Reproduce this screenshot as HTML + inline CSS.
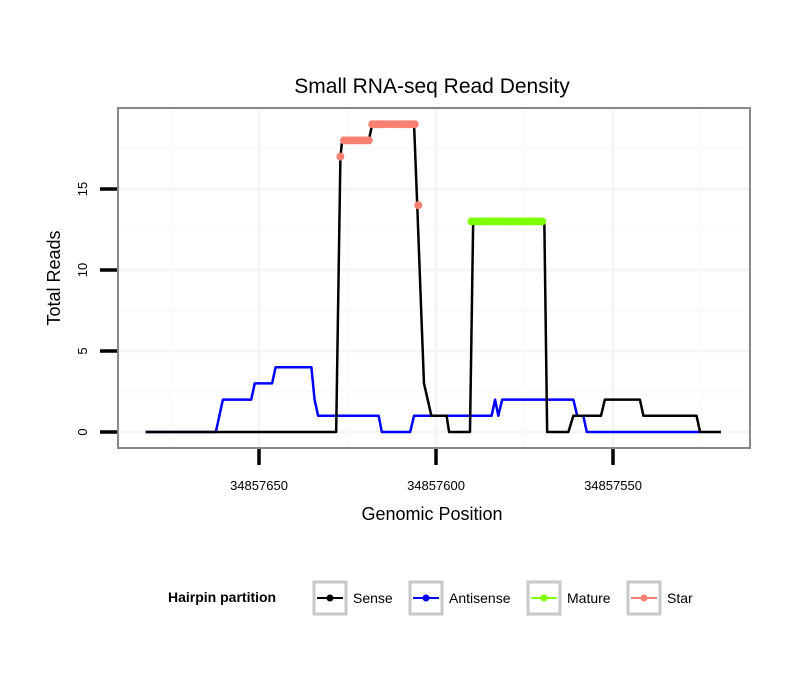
<!DOCTYPE html>
<html><head><meta charset="utf-8"><style>
body{margin:0;background:#fff;}
text{font-family:"Liberation Sans",sans-serif;}
</style></head><body>
<svg id="chart" width="810" height="690" xmlns="http://www.w3.org/2000/svg">
<rect width="810" height="690" fill="#fff"/>
<text x="432" y="93" text-anchor="middle" font-size="21">Small RNA-seq Read Density</text>
<g id="grid"></g>
<g id="series"></g>
<rect x="118" y="108" width="632" height="340" fill="none" stroke="#888" stroke-width="2"/>
<g id="axes"></g>
<text x="432" y="520" text-anchor="middle" font-size="18">Genomic Position</text>
<text transform="translate(60,278) rotate(-90)" text-anchor="middle" font-size="18">Total Reads</text>
<g>
<text x="168" y="602" font-size="14" font-weight="bold">Hairpin partition</text>
<g><rect x="314" y="582" width="32" height="32" fill="#fff" stroke="#c8c8c8" stroke-width="3"/><line x1="317" y1="598" x2="343" y2="598" stroke="#000" stroke-width="2"/><circle cx="330" cy="598" r="3.5" fill="#000"/><text x="353" y="603" font-size="14">Sense</text></g>
<g><rect x="410" y="582" width="32" height="32" fill="#fff" stroke="#c8c8c8" stroke-width="3"/><line x1="413" y1="598" x2="439" y2="598" stroke="#0000ff" stroke-width="2"/><circle cx="426" cy="598" r="3.5" fill="#0000ff"/><text x="449" y="603" font-size="14">Antisense</text></g>
<g><rect x="528" y="582" width="32" height="32" fill="#fff" stroke="#c8c8c8" stroke-width="3"/><line x1="531" y1="598" x2="557" y2="598" stroke="#7fff00" stroke-width="2"/><circle cx="544" cy="598" r="3.5" fill="#7fff00"/><text x="567" y="603" font-size="14">Mature</text></g>
<g><rect x="628" y="582" width="32" height="32" fill="#fff" stroke="#c8c8c8" stroke-width="3"/><line x1="631" y1="598" x2="657" y2="598" stroke="#fa8072" stroke-width="2"/><circle cx="644" cy="598" r="3.5" fill="#fa8072"/><text x="667" y="603" font-size="14">Star</text></g>
</g>
</svg>
<script>
const BASE = 34857000;
const xTicks = [650, 600, 550];
const xTickLabels = ["34857650", "34857600", "34857550"];
const yTicks = [0, 5, 10, 15];
const yTickLabels = ["0", "5", "10", "15"];
const senseX = [682,628.2,627,626.5,619,618,606.2,605.3,604.1,603.4,601.3,597,596.3,590.4,589.5,569.4,568.6,562.6,561.2,553.4,552.3,542.4,541.4,526.4,525.4,519.5];
const senseY = [0,0,17,18,18,19,19,14,7,3,1,1,0,0,13,13,0,0,1,1,2,2,1,1,0,0];
const antiX = [682,662.2,660.2,652.2,651.2,646.3,645.3,635.2,634.3,633.3,616.2,615.3,607.3,606.2,584.3,583.3,582.4,581.3,561.2,560.1,558.4,557.4,525.4];
const antiY = [0,0,2,2,3,3,4,4,2,1,1,0,0,1,1,2,1,2,2,1,1,0,0];
const starX = [627,626,625,624,623,622,621,620,619,618,617,616,615,614,613,612,611,610,609,608,607,606,605];
const starY = [17,18,18,18,18,18,18,18,18,19,19,19,19,19,19,19,19,19,19,19,19,19,14];
const matureX = [590,589,588,587,586,585,584,583,582,581,580,579,578,577,576,575,574,573,572,571,570];
const matureY = [13,13,13,13,13,13,13,13,13,13,13,13,13,13,13,13,13,13,13,13,13];

const NS = "http://www.w3.org/2000/svg";
function sx(p){ return 436 - (p - 600) * 3.54; }
function sy(v){ return 432 - v * 16.2; }
function mk(tag, attrs, parent){
  const e = document.createElementNS(NS, tag);
  for (const k in attrs) e.setAttribute(k, attrs[k]);
  parent.appendChild(e); return e;
}
const grid = document.getElementById('grid');
const series = document.getElementById('series');
const axes = document.getElementById('axes');
for (let v = 0; v <= 20; v += 2.5) {
  const y = sy(v); if (y < 108 || y > 448) continue;
  const l = mk('line', {x1:118, x2:750, y1:y, y2:y, stroke: (v % 5 === 0) ? '#f5f5f5' : '#fafafa', 'stroke-width': (v%5===0)?3:2}, grid);
  
  
}
for (let p = 525; p <= 675; p += 25) {
  const x = sx(p); if (x < 118 || x > 750) continue;
  const l = mk('line', {x1:x, x2:x, y1:108, y2:448, stroke: (p % 50 === 0) ? '#f5f5f5' : '#fafafa', 'stroke-width': (p%50===0)?3:2}, grid);
  
  
}
function line(xs, ys, color, name){
  const pts = xs.map((p,i)=>sx(p)+','+sy(ys[i])).join(' ');
  const pl = mk('polyline', {points: pts, fill:'none', stroke: color, 'stroke-width': 2.5, 'stroke-linejoin':'round'}, series);
  
  
}
line(antiX, antiY, '#0000ff', 'antisense-line');
line(senseX, senseY, '#000000', 'sense-line');
function pts(xs, ys, color, name){
  xs.forEach((p,i)=>{
    const c = mk('circle', {cx: sx(p), cy: sy(ys[i]), r: 4, fill: color}, series);
    
    
  });
}
pts(matureX, matureY, '#7fff00', 'mature-point');
pts(starX, starY, '#fa8072', 'star-point');
xTicks.forEach((p,i)=>{
  const x = sx(p);
  const t = mk('line', {x1:x, x2:x, y1:449, y2:465, stroke:'#000', 'stroke-width':3.5}, axes);
  
  
  const tx = mk('text', {x:x, y:490, 'text-anchor':'middle', 'font-size':13}, axes);
  tx.textContent = xTickLabels[i];
  
  
});
yTicks.forEach((v,i)=>{
  const y = sy(v);
  const t = mk('line', {x1:100, x2:117, y1:y, y2:y, stroke:'#000', 'stroke-width':3.5}, axes);
  
  
  const tx = mk('text', {transform:'translate(87,'+y+') rotate(-90)', 'text-anchor':'middle', 'font-size':13}, axes);
  tx.textContent = yTickLabels[i];
  
  
});
</script>
</body></html>
